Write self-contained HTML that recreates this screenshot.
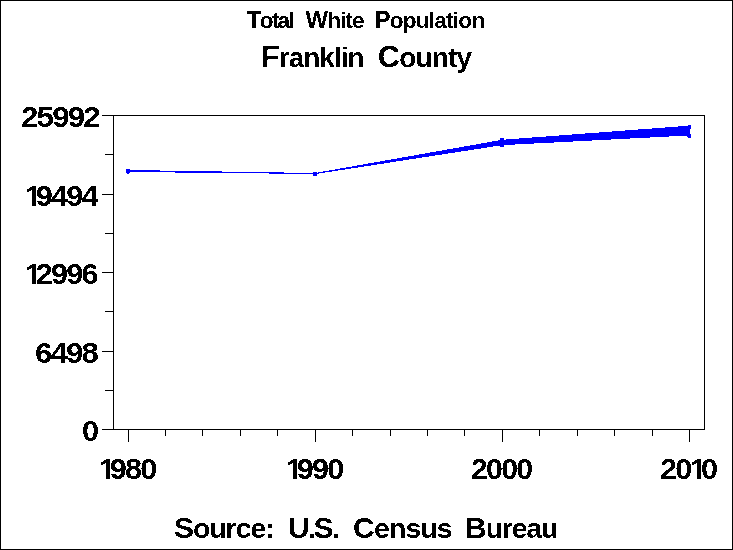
<!DOCTYPE html>
<html><head><meta charset="utf-8">
<style>
html,body{margin:0;padding:0;background:#fff;}
body{width:733px;height:550px;position:relative;overflow:hidden;font-family:"Liberation Sans",sans-serif;color:#000;}
svg{position:absolute;left:0;top:0;}
.t{position:absolute;white-space:nowrap;line-height:1;transform-origin:0 0;}
.b{font-weight:bold;}
.l{font-size:94.5%;}
.r{font-weight:bold;}
.d{font-size:29px;transform:scaleX(1.06);letter-spacing:-1.7px;}
.d i{font-style:normal;display:inline-block;width:10.6px;margin-left:-1.6px;margin-right:-0.8px;clip-path:polygon(0 0,100% 0,100% 100%,6.6px 100%,6.6px 21.3px,0 21.3px);}
.s{font-size:30px;transform:scaleX(0.90);}
</style></head><body>
<svg width="733" height="550" viewBox="0 0 733 550" shape-rendering="crispEdges">
<defs><filter id="thr" x="0" y="0" width="100%" height="100%" color-interpolation-filters="sRGB"><feComponentTransfer><feFuncA type="discrete" tableValues="0 1"/></feComponentTransfer></filter></defs>
<rect x="0" y="0" width="733" height="550" fill="#fff"/>
<!-- outer border -->
<rect x="0.5" y="0.5" width="732" height="549" fill="none" stroke="#000" stroke-width="1"/>
<!-- frame -->
<rect x="113.5" y="115.5" width="591" height="314" fill="none" stroke="#000" stroke-width="1"/>
<!-- y ticks -->
<g fill="#000">
<rect x="102" y="115" width="11" height="1"/>
<rect x="105" y="154" width="8" height="1"/>
<rect x="102" y="194" width="11" height="1"/>
<rect x="105" y="233" width="8" height="1"/>
<rect x="102" y="272" width="11" height="1"/>
<rect x="105" y="311" width="8" height="1"/>
<rect x="102" y="351" width="11" height="1"/>
<rect x="105" y="390" width="8" height="1"/>
<rect x="102" y="429" width="11" height="1"/>
<!-- x ticks -->
<rect x="128" y="430" width="1" height="12"/>
<rect x="165" y="430" width="1" height="6"/>
<rect x="202" y="430" width="1" height="6"/>
<rect x="240" y="430" width="1" height="6"/>
<rect x="277" y="430" width="1" height="6"/>
<rect x="315" y="430" width="1" height="12"/>
<rect x="352" y="430" width="1" height="6"/>
<rect x="390" y="430" width="1" height="6"/>
<rect x="427" y="430" width="1" height="6"/>
<rect x="464" y="430" width="1" height="6"/>
<rect x="502" y="430" width="1" height="12"/>
<rect x="539" y="430" width="1" height="6"/>
<rect x="577" y="430" width="1" height="6"/>
<rect x="614" y="430" width="1" height="6"/>
<rect x="652" y="430" width="1" height="6"/>
<rect x="689" y="430" width="1" height="12"/>
</g>
<!-- data -->
<g fill="#0000ff" stroke="none">
<rect x="128" y="170" width="32" height="1"/>
<rect x="128" y="171" width="94" height="1"/>
<rect x="175" y="172" width="109" height="1"/>
<rect x="269" y="173" width="47" height="1"/>
<polygon points="315,173 502,139.8 502,145.2 315,174.1"/>
<polygon points="502,139.8 690,125.6 690,135.4 502,145.2"/>
<rect x="126" y="169" width="4" height="4"/><rect x="127" y="173" width="2" height="1"/>
<rect x="313" y="172" width="4" height="4"/>
<rect x="500" y="138" width="4" height="9"/>
<rect x="688" y="125" width="3" height="4"/><rect x="687" y="126" width="4" height="3"/><rect x="688" y="134" width="3" height="4"/><rect x="687" y="134" width="4" height="3"/>
</g>
</svg>
<div id="txt" style="position:absolute;left:0;top:0;width:733px;height:550px;filter:url(#thr);">
<div class="t r" id="t1a" style="left:246.75px;top:8px;font-size:24px;transform:scaleX(1.0);letter-spacing:-1.75px;">T<span class="l">otal</span></div>
<div class="t r" id="t1b" style="left:305.55px;top:8px;font-size:24px;transform:scaleX(1.0);letter-spacing:-1.0px;">W<span class="l">hite</span></div>
<div class="t r" id="t1c" style="left:374.5px;top:8px;font-size:24px;transform:scaleX(1.0);letter-spacing:-0.81px;">P<span class="l">opulation</span></div>
<div class="t b" id="t2a" style="text-rendering:geometricPrecision;left:261.0px;top:41.5px;font-size:30.5px;transform:scaleX(1.0);letter-spacing:-0.92px;">F<span class="l" style="font-size:91.5%">ranklin</span></div>
<div class="t b" id="t2b" style="text-rendering:geometricPrecision;left:377.85px;top:41.5px;font-size:30.5px;transform:scaleX(1.0);letter-spacing:-0.76px;">C<span class="l" style="font-size:91.5%">ounty</span></div>
<div class="t b d" id="y1" style="left:20.5px;top:103px;transform:scaleX(1.08);">25992</div>
<div class="t b d" id="y2" style="left:26.8px;top:182px;"><i>1</i>9494</div>
<div class="t b d" id="y3" style="left:26.8px;top:260px;"><i>1</i>2996</div>
<div class="t b d" id="y4" style="left:35px;top:339px;transform:scaleX(1.075);">6498</div>
<div class="t b d" id="y5" style="left:82px;top:417px;">0</div>
<div class="t b d" id="x1" style="left:100.7px;top:455px;"><i>1</i>980</div>
<div class="t b d" id="x2" style="left:287.7px;top:455px;"><i>1</i>990</div>
<div class="t b d" id="x3" style="left:471.2px;top:455px;transform:scaleX(1.045);">2000</div>
<div class="t b d" id="x4" style="left:660px;top:455px;">20<i style="margin-left:-0.4px;margin-right:-0.5px">1</i>0</div>
<div class="t b s" id="s1" style="left:174.0px;top:513px;font-size:30px;transform:scaleX(1.0);letter-spacing:-1.01px;">S<span class="l">ource:</span></div>
<div class="t b s" id="s2" style="left:287.9px;top:513px;font-size:30px;transform:scaleX(1.0);letter-spacing:-2.17px;">U.S.</div>
<div class="t b s" id="s3" style="left:353.1px;top:513px;font-size:30px;transform:scaleX(1.0);letter-spacing:-0.82px;">C<span class="l">ensus</span></div>
<div class="t b s" id="s4" style="left:465.05px;top:513px;font-size:30px;transform:scaleX(1.0);letter-spacing:-1.1px;">B<span class="l">ureau</span></div>
</div>
</body></html>
